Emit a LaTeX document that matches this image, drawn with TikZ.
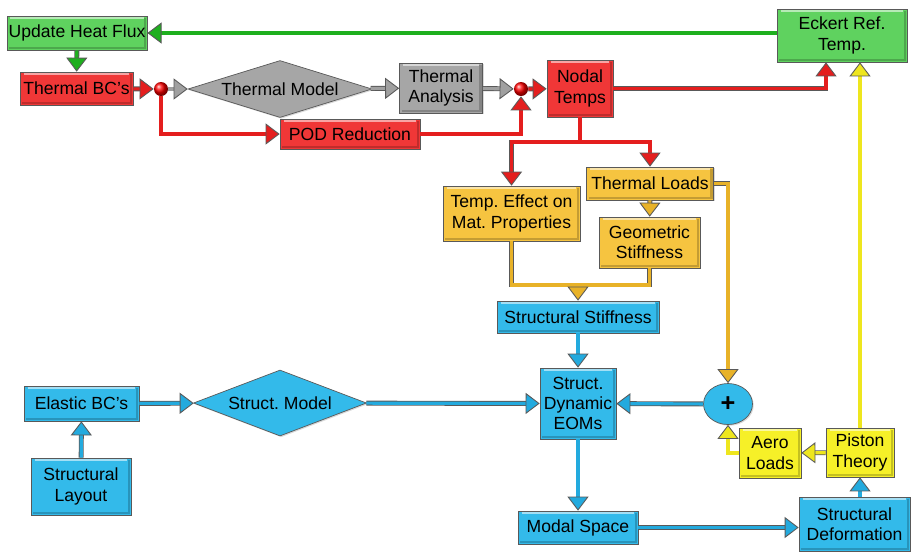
\documentclass[tikz,border=0pt]{standalone}
\usepackage{fontspec}
\setmainfont{Liberation Sans}
\frenchspacing
\usetikzlibrary{arrows.meta,shapes.geometric,shadows}
\definecolor{grnfill}{RGB}{95,210,95}
\definecolor{redfill}{RGB}{240,55,55}
\definecolor{grayfill}{RGB}{166,166,166}
\definecolor{goldfill}{RGB}{246,196,64}
\definecolor{bluefill}{RGB}{51,186,234}
\definecolor{yelfill}{RGB}{246,240,40}
\definecolor{grnline}{RGB}{30,175,30}
\definecolor{redline}{RGB}{228,30,30}
\definecolor{grayline}{RGB}{160,160,160}
\definecolor{goldline}{RGB}{232,178,40}
\definecolor{blueline}{RGB}{35,170,222}
\definecolor{yelline}{RGB}{238,230,30}
\tikzset{
  base/.style={draw=black!65, inner sep=1pt, align=center, font=\fontsize{10}{11.5}\selectfont,
    drop shadow={shadow xshift=0.7pt, shadow yshift=-0.7pt, opacity=0.3}},
  blk/.style={base, rectangle, path picture={
    \draw[white, opacity=0.55, line width=1.4pt]
      ([shift={(2pt,-1.2pt)}]path picture bounding box.north west) --
      ([shift={(-2pt,-1.2pt)}]path picture bounding box.north east);
    \draw[black, opacity=0.2, line width=1.4pt]
      ([shift={(1.2pt,1.2pt)}]path picture bounding box.south west) --
      ([shift={(-1.2pt,1.2pt)}]path picture bounding box.south east) --
      ([shift={(-1.2pt,-1.2pt)}]path picture bounding box.north east);}},
  dia/.style={base, diamond, inner sep=0pt},
  dot/.style={circle, ball color=red, minimum size=0.28cm, inner sep=0pt},
  lnk/.style={line width=1.8pt, draw=#1,
    -{Triangle[length=8pt, width=12pt, color=black!65, fill=#1, line width=0.5pt]},
    preaction={draw=black!65, line width=2.8pt, -, shorten >=3pt}},
  ln/.style={line width=1.8pt, draw=#1, preaction={draw=black!65, line width=2.8pt}},
}
\begin{document}
\begin{tikzpicture}[x=0.02cm, y=-0.02cm]
\useasboundingbox (0,0) rectangle (911,552);

% Thermal part
\node[blk, fill=grnfill, minimum width=2.76cm, minimum height=0.68cm] (uhf) at (77,33) {Update Heat Flux};
\node[blk, fill=grnfill, minimum width=2.6cm, minimum height=1.06cm] (eck) at (842,35.5) {Eckert Ref.\\Temp.};
\node[blk, fill=redfill, minimum width=2.26cm, minimum height=0.66cm] (tbc) at (76.5,88.5) {Thermal BC’s};
\node[dot] (dot1) at (161,89) {};
\node[dia, aspect=3.2, fill=grayfill, minimum width=3.68cm, minimum height=1.14cm] (tm) at (280,89) {Thermal Model};
\node[blk, fill=grayfill, minimum width=1.66cm, minimum height=1.0cm] (ta) at (441,88) {Thermal\\Analysis};
\node[dot] (dot2) at (521,89) {};
\node[blk, fill=redfill, minimum width=1.32cm, minimum height=1.14cm] (nt) at (580,88.5) {Nodal\\Temps};
\node[blk, fill=redfill, minimum width=2.8cm, minimum height=0.6cm] (pod) at (350,134) {POD Reduction};

% Loads and stiffness
\node[blk, fill=goldfill, minimum width=2.54cm, minimum height=0.66cm] (tl) at (650,183.5) {Thermal Loads};
\node[blk, fill=goldfill, minimum width=2.74cm, minimum height=1.1cm] (tem) at (511.5,213.5) {Temp. Effect on\\Mat. Properties};
\node[blk, fill=goldfill, minimum width=2.02cm, minimum height=1.02cm] (gs) at (649.5,242.5) {Geometric\\Stiffness};
\node[blk, fill=bluefill, minimum width=3.24cm, minimum height=0.64cm] (ss) at (578,317) {Structural Stiffness};

% Structural part
\node[blk, fill=bluefill, minimum width=2.3cm, minimum height=0.7cm] (ebc) at (81.5,403.5) {Elastic BC’s};
\node[blk, fill=bluefill, minimum width=2.0cm, minimum height=1.14cm] (sl) at (81,486.5) {Structural\\Layout};
\node[dia, aspect=2.6, fill=bluefill, minimum width=3.46cm, minimum height=1.32cm] (sm) at (280,403) {Struct. Model};
\node[blk, fill=bluefill, minimum width=1.52cm, minimum height=1.42cm] (eom) at (578,403.5) {Struct.\\Dynamic\\EOMs};
\node[base, ellipse, fill=bluefill, minimum width=0.98cm, minimum height=0.82cm, font=\Large\bfseries] (plus) at (728,404) {+};
\node[blk, fill=yelfill, minimum width=1.24cm, minimum height=1.0cm] (al) at (770,453) {Aero\\Loads};
\node[blk, fill=yelfill, minimum width=1.36cm, minimum height=0.98cm] (pt) at (860,452.5) {Piston\\Theory};
\node[blk, fill=bluefill, minimum width=2.22cm, minimum height=1.08cm] (sd) at (854.5,524) {Structural\\Deformation};
\node[blk, fill=bluefill, minimum width=2.4cm, minimum height=0.66cm] (ms) at (578,527.5) {Modal Space};

\coordinate (split) at (580,142);
\coordinate (merge) at (578,285);

% Connectors
\draw[lnk=grnline] (uhf.east -| eck.west) -- (uhf.east);
\draw[lnk=grnline] (uhf) -- (tbc);
\draw[lnk=redline] (tbc) -- (dot1);
\draw[lnk=grayline] (dot1) -- (tm);
\draw[lnk=redline] (dot1) |- (pod);
\draw[lnk=grayline] (tm) -- (ta);
\draw[lnk=grayline] (ta) -- (dot2);
\draw[lnk=redline] (pod) -| (dot2);
\draw[lnk=redline] (dot2) -- (nt);
\draw[lnk=redline] (nt.east) -| ([xshift=-0.32cm]eck.south);
\draw[lnk=redline] (nt.south) -- (split) -| (tem);
\draw[lnk=redline] (split) -| (tl);
\draw[lnk=goldline] (tl) -- (gs);
\draw[lnk=goldline] (tl.east) -| (plus.north);
\draw[ln=goldline] (gs.south) |- (merge);
\draw[lnk=goldline] (tem.south) |- (merge) -- (ss.north);
\draw[lnk=blueline] (ss) -- (eom);
\draw[lnk=blueline] (sl) -- (ebc);
\draw[lnk=blueline] (ebc) -- (sm);
\draw[lnk=blueline] (sm) -- (eom);
\draw[lnk=blueline] (plus) -- (eom);
\draw[lnk=blueline] (eom) -- (ms);
\draw[lnk=blueline] (ms.east) -- (ms.east -| sd.west);
\draw[lnk=blueline] (sd.north -| pt) -- (pt);
\draw[lnk=yelline] (pt) -- (al);
\draw[lnk=yelline] (al.west) -| (plus.south);
\draw[lnk=yelline] (pt) -- (pt |- eck.south);

\end{tikzpicture}
\end{document}
